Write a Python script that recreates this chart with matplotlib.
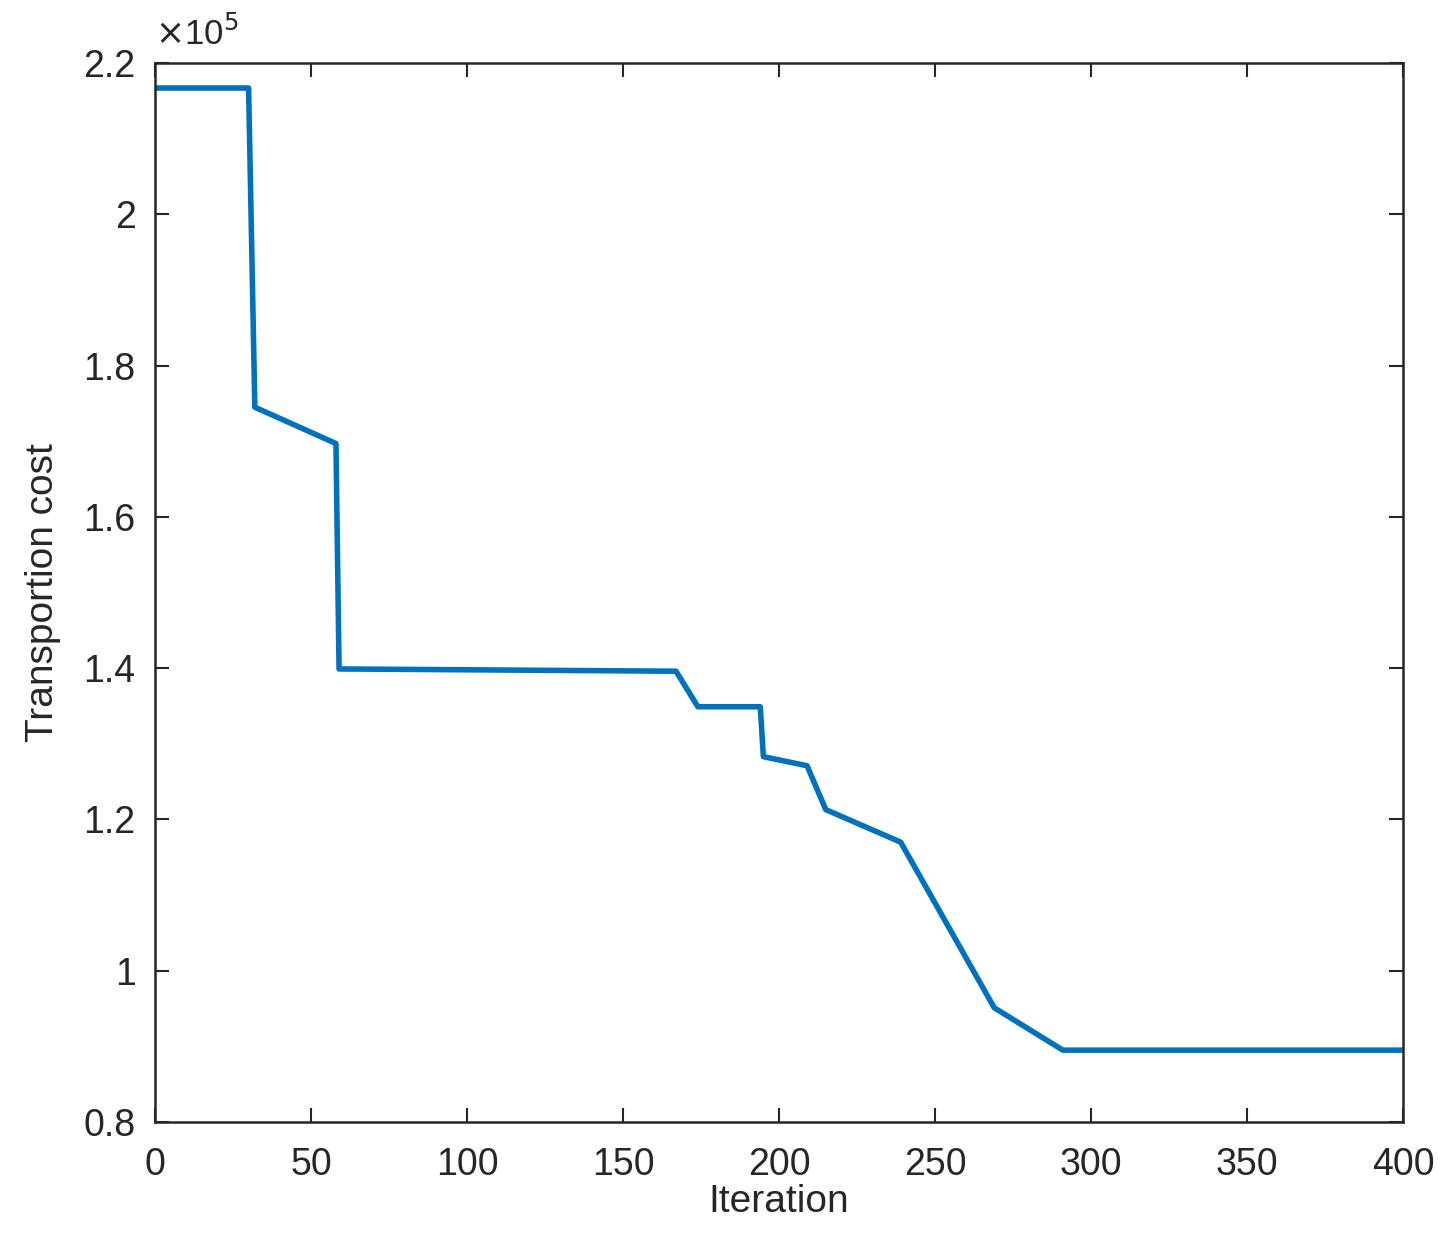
import matplotlib
matplotlib.use("Agg")
from matplotlib import pyplot as plt
from matplotlib.ticker import FuncFormatter

# values (cost in plain units)
iteration = [0, 30, 32, 58, 59, 167, 174, 194, 195, 209, 215, 239, 269, 291, 400]
cost = [216700, 216700, 174500, 169700, 139900, 139600, 134900, 134900,
        128300, 127100, 121300, 117000, 95100, 89500, 89500]

x_ticks = [0, 50, 100, 150, 200, 250, 300, 350, 400]
y_ticks = [80000, 100000, 120000, 140000, 160000, 180000, 200000, 220000]

plt.rcParams['font.family'] = ['Liberation Sans', 'DejaVu Sans']
axis_col = '#262626'

fig = plt.figure(figsize=(14.54, 12.51), dpi=100)
ax = fig.add_axes([0.1066, 0.1031, 0.8583, 0.8465])

ax.plot(iteration, cost, color='#0072BD', linewidth=4.0)

ax.set_xlim(0, 400)
ax.set_ylim(80000, 220000)
ax.set_xticks(x_ticks)
ax.set_yticks(y_ticks)
ax.yaxis.set_major_formatter(FuncFormatter(lambda v, p: '%g' % (v / 1e5)))

ax.tick_params(direction='in', length=10, width=1.5, colors=axis_col,
               labelsize=27, top=True, right=True)
ax.tick_params(axis='x', pad=18)
ax.tick_params(axis='y', pad=14)
for s in ax.spines.values():
    s.set_color(axis_col)
    s.set_linewidth(1.8)

ax.set_xlabel('Iteration', fontsize=28, color=axis_col, labelpad=1)
ax.set_ylabel('Transportion cost', fontsize=28, color=axis_col, labelpad=16)
ax.text(0.0, 1.01, r'$\times$10$^5$', transform=ax.transAxes, fontsize=25,
        color=axis_col, ha='left', va='bottom')

fig.savefig('out.png', dpi=100)
